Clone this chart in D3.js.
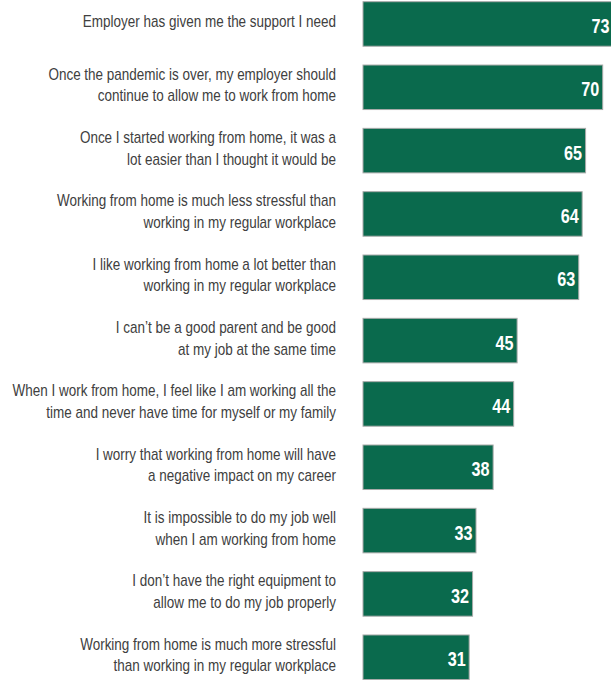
<!DOCTYPE html>
<html><head><meta charset="utf-8">
<script src="https://cdn.jsdelivr.net/npm/d3@7"></script>
<style>
html,body{margin:0;padding:0;background:#fff;}
svg{display:block;}
</style></head>
<body>
<svg id="chart" width="611" height="681"></svg>
<script>
const categories = [
  ["Employer has given me the support I need"],
  ["Once the pandemic is over, my employer should", "continue to allow me to work from home"],
  ["Once I started working from home, it was a", "lot easier than I thought it would be"],
  ["Working from home is much less stressful than", "working in my regular workplace"],
  ["I like working from home a lot better than", "working in my regular workplace"],
  ["I can\u2019t be a good parent and be good", "at my job at the same time"],
  ["When I work from home, I feel like I am working all the", "time and never have time for myself or my family"],
  ["I worry that working from home will have", "a negative impact on my career"],
  ["It is impossible to do my job well", "when I am working from home"],
  ["I don\u2019t have the right equipment to", "allow me to do my job properly"],
  ["Working from home is much more stressful", "than working in my regular workplace"]
];
const values = [73, 70, 65, 64, 63, 45, 44, 38, 33, 32, 31];

const svg = d3.select("#chart");
const idx = d3.range(values.length);
const y = d3.scaleBand().domain(idx).range([1.7, 679.5]).paddingInner(0.297).paddingOuter(0);
const x = d3.scaleLinear().domain([0, 70]).range([363, 602.7]);

const font = "'Liberation Sans', Arial, sans-serif";

svg.selectAll("rect.bar").data(idx).enter().append("rect")
  .attr("class", "bar")
  .attr("x", x(0))
  .attr("y", i => y(i))
  .attr("width", i => x(values[i]) - x(0))
  .attr("height", y.bandwidth())
  .attr("fill", "#0a6a4d")
  .attr("stroke", "#a8aaa9")
  .attr("stroke-width", 1);

svg.selectAll("text.val").data(idx).enter().append("text")
  .attr("class", "val")
  .attr("transform", i => `translate(${x(values[i]) - 3.5},${y(i) + y.bandwidth() / 2}) scale(0.81,1)`)
  .attr("dy", "0.45em")
  .attr("text-anchor", "end")
  .attr("fill", "#fff")
  .attr("font-family", font)
  .attr("font-weight", "bold")
  .attr("font-size", 20)
  .text(i => values[i]);

const lab = svg.selectAll("text.lab").data(idx).enter().append("text")
  .attr("class", "lab")
  .attr("text-anchor", "end")
  .attr("fill", "#404040")
  .attr("font-family", font)
  .attr("font-size", 16)
  .attr("transform", i => `translate(336,${y(i) + y.bandwidth() / 2}) scale(0.843,1)`);

lab.each(function(i) {
  const lines = categories[i];
  const lh = 21.5;
  const t = d3.select(this);
  lines.forEach((l, k) => {
    t.append("tspan")
      .attr("x", 0)
      .attr("y", (k - (lines.length - 1) / 2) * lh)
      .attr("dy", "0.2em")
      .text(l);
  });
});
</script>
</body></html>
